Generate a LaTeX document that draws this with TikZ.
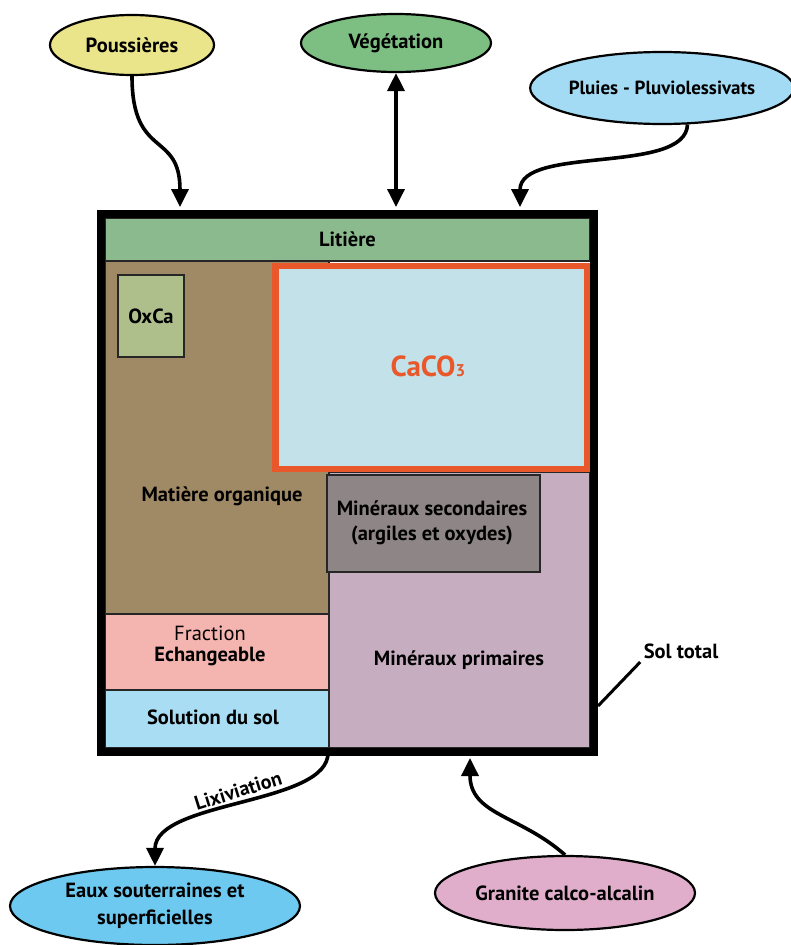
\documentclass[tikz,border=0pt]{standalone}
\usepackage{fontspec}
\setmainfont{PT Sans}
\usetikzlibrary{shapes.geometric,arrows.meta}
\definecolor{cpous}{HTML}{EAE48A}
\definecolor{cvege}{HTML}{7DBF83}
\definecolor{cpluie}{HTML}{A3DAF4}
\definecolor{ceaux}{HTML}{6DC9EF}
\definecolor{cgran}{HTML}{E0AECB}
\definecolor{clit}{HTML}{8BBA8F}
\definecolor{cmo}{HTML}{A08965}
\definecolor{coxca}{HTML}{AEBF8C}
\definecolor{ccaco}{HTML}{C3E1E9}
\definecolor{corange}{HTML}{E8582A}
\definecolor{cms}{HTML}{8E8586}
\definecolor{cmp}{HTML}{C6ADC0}
\definecolor{cfe}{HTML}{F4B4AF}
\definecolor{css}{HTML}{A9DDF3}

\begin{document}
\begin{tikzpicture}[x=1pt,y=-1pt,
    src/.style={ellipse,draw=black,line width=2.2pt,inner sep=0pt,align=center,font=\bfseries\fontsize{20.5}{27}\selectfont},
    zone/.style={rectangle,draw=black!85,line width=1.6pt,inner sep=0pt},
    lbl/.style={align=center,font=\bfseries\fontsize{20.5}{25}\selectfont},
    flow/.style={line width=3.6pt,-{Triangle[length=18pt,width=17pt]}}]
    \useasboundingbox (0,0) rectangle (791,945);

    % sources
    \node[src,fill=cpous,minimum width=164pt,minimum height=60pt] (pous) at (132,45) {Poussières};
    \node[src,fill=cvege,minimum width=190pt,minimum height=58pt] (vege) at (396,43) {Végétation};
    \node[src,fill=cpluie,minimum width=254pt,minimum height=72pt,font=\bfseries\fontsize{19}{22}\selectfont] (pluie) at (662,88) {Pluies - Pluviolessivats};
    \node[src,fill=ceaux,minimum width=290pt,minimum height=78pt] (eaux) at (155,906) {Eaux souterraines et\\superficielles};
    \node[src,fill=cgran,minimum width=260pt,minimum height=74pt] (gran) at (565,893) {Granite calco-alcalin};

    % compartiments
    \node[zone,fill=clit,minimum width=485pt,minimum height=43pt] (lit) at (347.5,239.5) {};
    \node[zone,fill=cmo,minimum width=224pt,minimum height=353pt] (mo) at (217,437.5) {};
    \node[zone,fill=cmp,minimum width=261pt,minimum height=276pt] (mp) at (459.5,610) {};
    \node[zone,fill=cms,minimum width=213pt,minimum height=97pt] (ms) at (433.5,523.5) {};
    \node[zone,fill=cfe,minimum width=224pt,minimum height=76pt] (fe) at (217,652) {};
    \node[zone,fill=css,minimum width=224pt,minimum height=58pt] (ss) at (217,719) {};
    \node[rectangle,draw=corange,fill=ccaco,line width=6.5pt,minimum width=312pt,minimum height=203pt] (caco) at (431.5,367.5) {};
    \node[zone,fill=coxca,minimum width=66pt,minimum height=82pt] (oxca) at (151,316) {};
    \node[rectangle,draw=black,line width=8pt,minimum width=493pt,minimum height=538pt] (sol) at (347.5,483) {};

    % textes
    \node[lbl] (tlit) at (lit) {Litière};
    \node[lbl] (toxca) at (oxca) {OxCa};
    \node[lbl,text=corange,font=\bfseries\fontsize{29}{32}\selectfont] (tcaco) at (428,366) {CaCO{\fontsize{17}{17}\selectfont 3}};
    \node[lbl] (tmo) at (222,496) {Matière organique};
    \node[lbl] (tms) at (432,523) {Minéraux secondaires\\(argiles et oxydes)};
    \node[lbl,font=\fontsize{20.5}{21}\selectfont] (tfe) at (210,646) {Fraction\\\textbf{Echangeable}};
    \node[lbl] (tss) at (213,717) {Solution du sol};
    \node[lbl] (tmp) at (459,660) {Minéraux primaires};
    \node[lbl] (tsol) at (681,651) {Sol total};

    % flux
    \coordinate (inpous) at (180,207);
    \coordinate (invege) at (396,207);
    \coordinate (inpluie) at (520,207);
    \coordinate (outlix) at (328,752);
    \coordinate (ingran) at (470,758);
    \coordinate (solpt) at (598,706);

    \draw[flow] (pous.south) .. controls (132,160) and (180,130) .. (inpous);
    \draw[flow,{Triangle[length=18pt,width=17pt]}-{Triangle[length=18pt,width=17pt]}] (vege.south) -- (invege);
    \draw[flow] (pluie.-55) .. controls (686,175) and (520,145) .. (inpluie);
    \draw[flow] (outlix) .. controls (330,805) and (155,800) .. node[pos=0.5,sloped,above,inner sep=5pt,font=\bfseries\fontsize{20}{22}\selectfont] (tlix) {Lixiviation} (eaux.north);
    \draw[flow] (gran.north) .. controls (520,815) and (470,815) .. (ingran);
    \draw[line width=3pt] (solpt) -- (tsol.south west);
\end{tikzpicture}
\end{document}
